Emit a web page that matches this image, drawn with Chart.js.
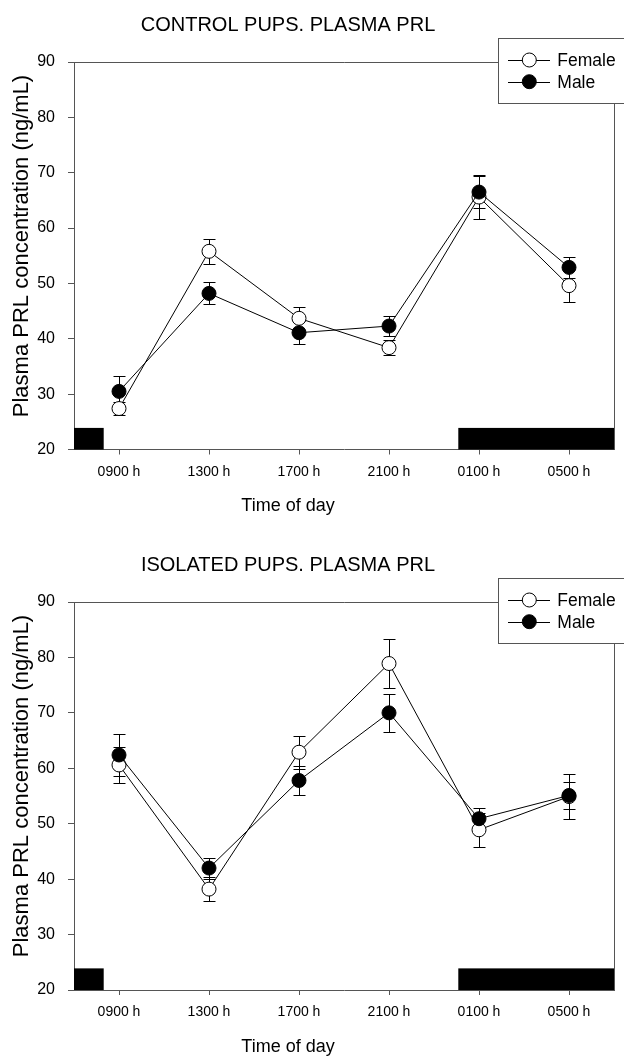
<!DOCTYPE html>
<html>
<head>
<meta charset="utf-8">
<script src="https://cdn.jsdelivr.net/npm/chart.js@4.4.1/dist/chart.umd.min.js"></script>
<style>
  html, body { margin: 0; padding: 0; background: #fff; }
  #wrap { position: relative; width: 624px; height: 1057px; overflow: hidden; }
  canvas { position: absolute; left: 0; }
</style>
</head>
<body>
<div id="wrap">
  <canvas id="c1" width="624" height="540" style="top:0px"></canvas>
  <canvas id="c2" width="624" height="517" style="top:540px"></canvas>
</div>
<script>
// ---------- data ----------
const timeLabels = ['0900 h', '1300 h', '1700 h', '2100 h', '0100 h', '0500 h'];

const controlFemale    = [27.4, 55.8, 43.7, 38.4, 65.6, 49.6];
const controlFemaleErr = [1.1, 2.3, 2.1, 1.4, 4.0, 3.0];
const controlMale      = [30.5, 48.2, 41.1, 42.3, 66.5, 52.9];
const controlMaleErr   = [2.7, 2.0, 2.1, 1.8, 2.9, 1.9];

const isolatedFemale    = [60.6, 38.2, 62.9, 78.9, 48.9, 54.9];
const isolatedFemaleErr = [3.2, 2.1, 3.0, 4.5, 3.1, 4.1];
const isolatedMale      = [62.4, 42.0, 57.8, 70.0, 50.9, 55.1];
const isolatedMaleErr   = [3.8, 1.9, 2.6, 3.4, 1.9, 2.4];

// dark-phase bands, in category-index units along the time axis
const darkStart = [-0.5, 3.77];
const darkEnd   = [-0.17, 5.5];
const darkBandTop = 23.9;   // value on the y axis

const yTicksMin = 20, yTicksMax = 90, yTickStep = 10;

const seriesNames = ['Female', 'Male'];
const chartTitles = ['CONTROL PUPS. PLASMA PRL', 'ISOLATED PUPS. PLASMA PRL'];
const xTitle = 'Time of day';
const yTitle = 'Plasma PRL concentration (ng/mL)';

// ---------- rendering ----------
const FONT = "'Liberation Sans', Arial, Helvetica, sans-serif";
const AXIS = '#555';

function decorPlugin(titleText, errs) {
  return {
    id: 'decor',
    beforeDatasetsDraw(chart) {
      const ctx = chart.ctx, xs = chart.scales.x, ys = chart.scales.y;
      ctx.save();
      // dark phase bands
      ctx.fillStyle = '#000';
      for (let i = 0; i < darkStart.length; i++) {
        const x0 = xs.getPixelForValue(darkStart[i]);
        const x1 = xs.getPixelForValue(darkEnd[i]);
        const y0 = ys.getPixelForValue(darkBandTop);
        const y1 = ys.getPixelForValue(yTicksMin);
        ctx.fillRect(x0, y0, x1 - x0, y1 - y0);
      }
      // error bars
      ctx.strokeStyle = '#000';
      ctx.lineWidth = 1;
      chart.data.datasets.forEach((ds, di) => {
        const e = errs[di];
        ds.data.forEach((v, i) => {
          const x = Math.round(xs.getPixelForValue(i)) + 0.5;
          const yt = Math.round(ys.getPixelForValue(v + e[i])) + 0.5;
          const yb = Math.round(ys.getPixelForValue(v - e[i])) + 0.5;
          ctx.beginPath();
          ctx.moveTo(x, yt); ctx.lineTo(x, yb);
          ctx.moveTo(x - 6, yt); ctx.lineTo(x + 6, yt);
          ctx.moveTo(x - 6, yb); ctx.lineTo(x + 6, yb);
          ctx.stroke();
        });
      });
      ctx.restore();
    },
    afterDraw(chart) {
      const ctx = chart.ctx, a = chart.chartArea;
      ctx.save();
      // top and right frame
      ctx.strokeStyle = AXIS;
      ctx.lineWidth = 1;
      ctx.beginPath();
      ctx.moveTo(a.left, Math.round(a.top) + 0.5);
      ctx.lineTo(Math.round(a.right) + 0.5, Math.round(a.top) + 0.5);
      ctx.lineTo(Math.round(a.right) + 0.5, a.bottom);
      ctx.stroke();

      // legend box
      const lx = Math.round(a.right - 116) + 0.5, ly = Math.round(a.top - 24) + 0.5;
      const lw = 140, lh = 65;
      ctx.fillStyle = '#fff';
      ctx.fillRect(lx, ly, lw, lh);
      ctx.strokeStyle = AXIS;
      ctx.strokeRect(lx, ly, lw, lh);
      const rows = [a.top - 2, a.top + 19.7];
      const fills = ['#fff', '#000'];
      rows.forEach((ry, k) => {
        ctx.strokeStyle = '#000';
        ctx.lineWidth = 1;
        ctx.beginPath();
        ctx.moveTo(a.right - 106, Math.round(ry) + 0.5);
        ctx.lineTo(a.right - 64, Math.round(ry) + 0.5);
        ctx.stroke();
        ctx.beginPath();
        ctx.arc(a.right - 84.7, ry, 7, 0, Math.PI * 2);
        ctx.fillStyle = fills[k];
        ctx.fill();
        ctx.stroke();
        ctx.fillStyle = '#000';
        ctx.font = '17.5px ' + FONT;
        ctx.textAlign = 'left';
        ctx.textBaseline = 'middle';
        ctx.fillText(seriesNames[k], a.right - 56.7, ry + 1);
      });

      // titles
      ctx.fillStyle = '#000';
      ctx.textAlign = 'center';
      ctx.textBaseline = 'alphabetic';
      ctx.font = '20px ' + FONT;
      ctx.fillText(titleText, 288, a.top - 31);
      ctx.font = '18px ' + FONT;
      ctx.fillText(xTitle, 288, a.bottom + 61.5);
      ctx.save();
      ctx.translate(28, a.top + 184);
      ctx.rotate(-Math.PI / 2);
      ctx.font = '22px ' + FONT;
      ctx.fillText(yTitle, 0, 0);
      ctx.restore();
      ctx.restore();
    }
  };
}

function makeChart(id, female, femaleErr, male, maleErr, titleText, padBottom) {
  const pointStyle = (bg) => ({
    borderColor: '#000', borderWidth: 1, pointRadius: 7, pointHoverRadius: 7,
    pointBackgroundColor: bg, pointBorderColor: '#000', pointBorderWidth: 1,
    fill: false, tension: 0
  });
  return new Chart(document.getElementById(id), {
    type: 'line',
    data: {
      labels: timeLabels,
      datasets: [
        Object.assign({ label: seriesNames[0], data: female, order: 1 }, pointStyle('#fff')),
        Object.assign({ label: seriesNames[1], data: male, order: 0 }, pointStyle('#000'))
      ]
    },
    options: {
      responsive: false,
      animation: false,
      devicePixelRatio: 1,
      events: [],
      layout: { padding: { left: 0, right: 10, top: 62, bottom: padBottom } },
      plugins: { legend: { display: false }, tooltip: { enabled: false }, title: { display: false } },
      scales: {
        x: {
          type: 'category',
          offset: true,
          grid: { display: true, drawOnChartArea: false, drawTicks: true, tickLength: 5, tickColor: AXIS, offset: false },
          border: { display: true, color: AXIS, width: 1 },
          ticks: { color: '#000', font: { family: FONT, size: 14 }, padding: 9, maxRotation: 0, autoSkip: false },
          afterFit(s) { s.height = 40; }
        },
        y: {
          min: yTicksMin, max: yTicksMax,
          grid: { display: true, drawOnChartArea: false, drawTicks: true, tickLength: 6, tickColor: AXIS },
          border: { display: true, color: AXIS, width: 1 },
          ticks: { stepSize: yTickStep, color: '#000', font: { family: FONT, size: 16 }, padding: 13 },
          afterFit(s) { s.width = 74; }
        }
      }
    },
    plugins: [decorPlugin(titleText, [femaleErr, maleErr])]
  });
}

makeChart('c1', controlFemale, controlFemaleErr, controlMale, controlMaleErr, chartTitles[0], 540 - 449.5 - 40);
makeChart('c2', isolatedFemale, isolatedFemaleErr, isolatedMale, isolatedMaleErr, chartTitles[1], 517 - 450 - 40);
</script>
</body>
</html>
